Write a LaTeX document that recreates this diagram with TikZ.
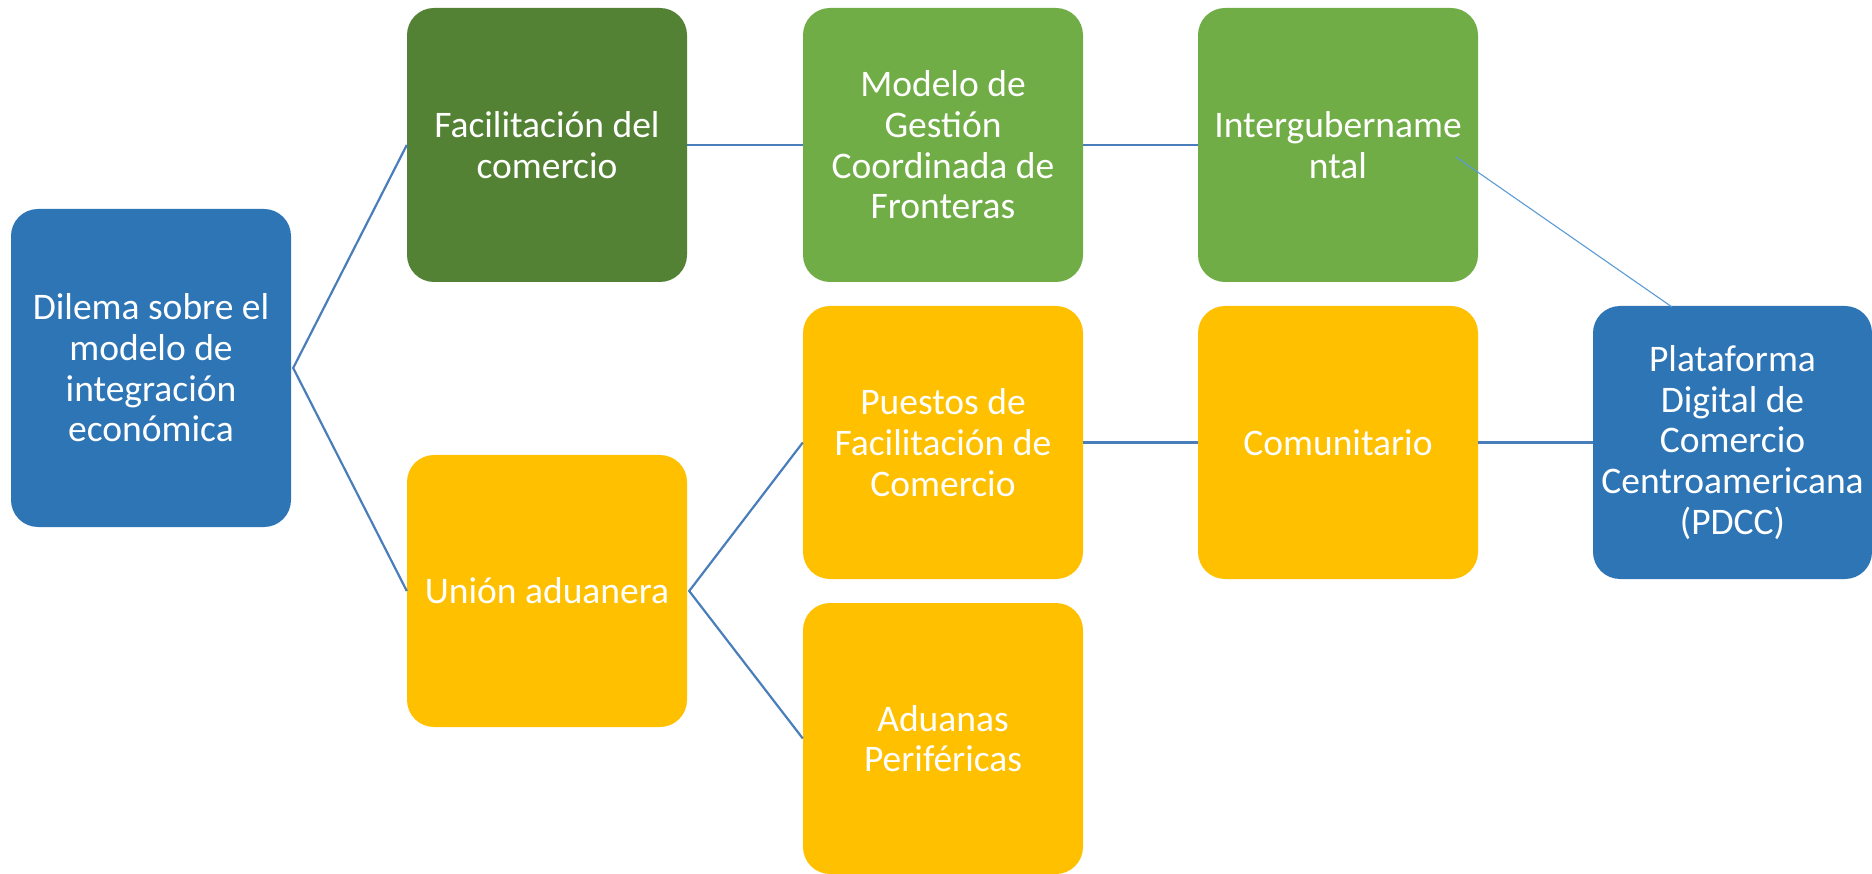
\documentclass[tikz,border=0pt]{standalone}
\usepackage{fontspec}
\setmainfont{Carlito}
\usetikzlibrary{calc}
\definecolor{cblue}{HTML}{2E75B6}
\definecolor{cdkgreen}{HTML}{548235}
\definecolor{cgreen}{HTML}{70AD47}
\definecolor{cgold}{HTML}{FFC000}
\definecolor{cline}{HTML}{4A7EBB}
\definecolor{cthin}{HTML}{5B9BD5}
\begin{document}
\begin{tikzpicture}[x=1pt,y=-1pt,
  box/.style={rounded corners=27pt, minimum width=280pt, minimum height=273pt, inner sep=0pt,
    align=center, text=white, font=\fontsize{37.5}{40.7}\selectfont},
  conn/.style={draw=cline, line width=2.2pt},
  thin/.style={draw=cthin, line width=1.1pt}]
\useasboundingbox (0,0) rectangle (1872,874);
\node[box, fill=cblue, minimum height=318pt] (dil) at (151,368) {Dilema sobre el\\modelo de\\integración\\económica};
\node[box, fill=cdkgreen, minimum height=274pt] (fac) at (547,145) {Facilitación del\\comercio};
\node[box, fill=cgold, minimum height=272pt] (uni) at (547,591) {Unión aduanera};
\node[box, fill=cgreen, minimum height=274pt] (mod) at (943,145) {Modelo de\\Gestión\\Coordinada de\\Fronteras};
\node[box, fill=cgold] (pue) at (943,442.5) {Puestos de\\Facilitación de\\Comercio};
\node[box, fill=cgold, minimum height=271pt] (adu) at (943,738.5) {Aduanas\\Periféricas};
\node[box, fill=cgreen, minimum height=274pt] (int) at (1338,145) {Intergubername\\ntal};
\node[box, fill=cgold] (com) at (1338,442.5) {Comunitario};
\node[box, fill=cblue, minimum width=279pt] (pla) at (1732.5,442.5) {Plataforma\\Digital de\\Comercio\\Centroamericana\\(PDCC)};
\coordinate (dilout) at ($(dil.east)+(2,0)$);
\coordinate (uniout) at ($(uni.east)+(2,0)$);
\coordinate (intout) at (1456,157);
\coordinate (plain) at (1672,307);
\draw[conn] (fac.west) -- (dilout) -- (uni.west);
\draw[conn] (fac.east) -- (mod.west);
\draw[conn] (mod.east) -- (int.west);
\draw[conn] (pue.west) -- (uniout) -- (adu.west);
\draw[conn] (pue.east) -- (com.west);
\draw[conn] (com.east) -- (pla.west);
\draw[thin] (intout) -- (plain);
\end{tikzpicture}
\end{document}
